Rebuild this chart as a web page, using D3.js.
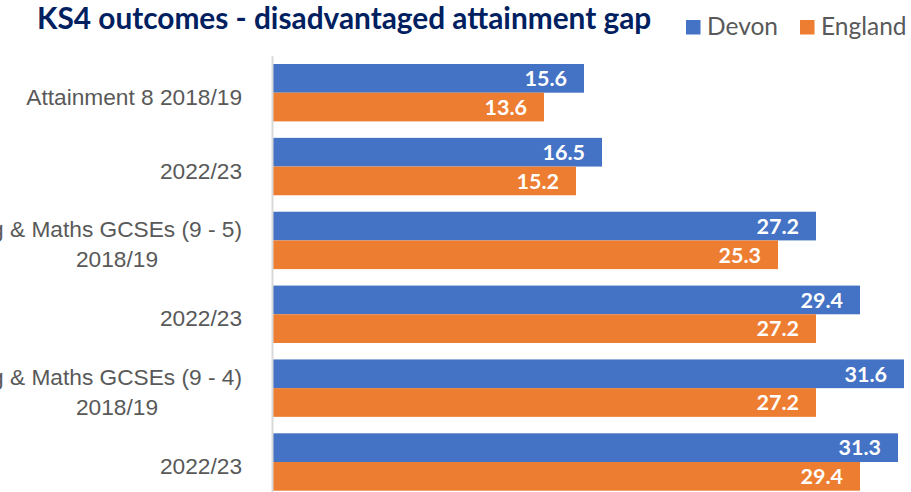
<!DOCTYPE html>
<html>
<head>
<meta charset="utf-8">
<script src="https://cdn.jsdelivr.net/npm/d3@7"></script>
<style>
  html, body { margin: 0; padding: 0; background: #fff; overflow: hidden; }
  svg { display: block; font-family: Lato, "Open Sans", sans-serif; }
</style>
</head>
<body>
<svg width="911" height="492"></svg>
<script>
// categories (top to bottom), each as its wrapped lines
var categories = [
  ["Attainment 8 2018/19"],
  ["2022/23"],
  ["Eng & Maths GCSEs (9 - 5)", "2018/19"],
  ["2022/23"],
  ["Eng & Maths GCSEs (9 - 4)", "2018/19"],
  ["2022/23"]
];
var series = ["Devon", "England"];
var devon = [15.6, 16.5, 27.2, 29.4, 31.6, 31.3];
var england = [13.6, 15.2, 25.3, 27.2, 27.2, 29.4];

var colors = { Devon: "#4472C4", England: "#ED7D31" };

var svg = d3.select("svg");

var rows = categories.map(function(c, i) {
  return { i: i, lines: c, Devon: devon[i], England: england[i] };
});

var x = d3.scaleLinear()
  .domain([0, 35])
  .range([272, 972]);

var y = d3.scaleBand()
  .domain(d3.range(categories.length))
  .range([55.8, 498.9])
  .paddingInner(0.223)
  .paddingOuter(0.111);

var ySub = d3.scaleBand()
  .domain(series)
  .range([0, y.bandwidth()]);

// title
svg.append("text")
  .attr("x", 37)
  .attr("y", 29)
  .attr("fill", "#002060")
  .attr("font-weight", "bold")
  .attr("font-size", 29.8)
  .text("KS4 outcomes - disadvantaged attainment gap");

// legend
var legendX = [686, 800];
var legend = svg.selectAll(".legend")
  .data(series).enter()
  .append("g")
  .attr("class", "legend")
  .attr("transform", function(d, i) { return "translate(" + legendX[i] + ",20)"; });
legend.append("rect")
  .attr("width", 14.5)
  .attr("height", 14.5)
  .attr("fill", function(d) { return colors[d]; });
legend.append("text")
  .attr("x", 21)
  .attr("y", 15)
  .attr("font-size", 24.5)
  .attr("fill", "#595959")
  .text(function(d) { return d; });

// bars
var group = svg.selectAll(".group")
  .data(rows).enter()
  .append("g")
  .attr("class", "group")
  .attr("transform", function(d) { return "translate(0," + y(d.i) + ")"; });

group.selectAll("rect")
  .data(function(d) { return series.map(function(s) { return { key: s, value: d[s] }; }); })
  .enter().append("rect")
  .attr("x", x(0))
  .attr("y", function(d) { return ySub(d.key); })
  .attr("width", function(d) { return x(d.value) - x(0); })
  .attr("height", ySub.bandwidth())
  .attr("fill", function(d) { return colors[d.key]; });

group.selectAll(".val")
  .data(function(d) { return series.map(function(s) { return { key: s, value: d[s] }; }); })
  .enter().append("text")
  .attr("class", "val")
  .attr("x", function(d) { return x(d.value) - 17; })
  .attr("y", function(d) { return ySub(d.key) + ySub.bandwidth() / 2; })
  .attr("dy", "0.36em")
  .attr("text-anchor", "end")
  .attr("fill", "#fff")
  .attr("font-weight", "bold")
  .attr("font-size", 21.5)
  .text(function(d) { return d3.format(".1f")(d.value); });

// category axis
var axis = svg.append("g")
  .attr("transform", "translate(" + x(0) + ",0)")
  .call(d3.axisLeft(y).tickSize(0).tickFormat(""));

axis.select(".domain")
  .attr("stroke", "#D9D9D9")
  .attr("stroke-width", 2);

axis.selectAll(".tick").each(function(i) {
  var t = d3.select(this).append("text")
    .attr("fill", "#595959")
    .attr("font-size", 22.7);
  var lines = categories[i];
  if (lines.length === 1) {
    t.append("tspan")
      .attr("x", -30)
      .attr("y", 12)
      .attr("text-anchor", "end")
      .text(lines[0]);
  } else {
    t.append("tspan")
      .attr("x", -30)
      .attr("y", -3)
      .attr("text-anchor", "end")
      .text(lines[0]);
    t.append("tspan")
      .attr("x", -155)
      .attr("y", 27)
      .attr("text-anchor", "middle")
      .text(lines[1]);
  }
});
</script>
</body>
</html>
